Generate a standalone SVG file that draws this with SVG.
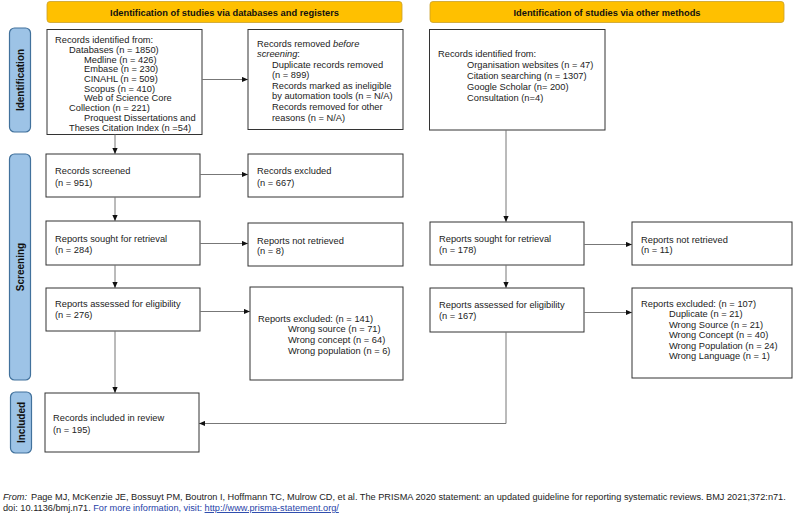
<svg xmlns="http://www.w3.org/2000/svg" width="796" height="516" viewBox="0 0 796 516">
<style>
text{font-family:"Liberation Sans",Arial,sans-serif;fill:#222}
.t{font-size:9.3px}
.b{fill:#fff;stroke:#333;stroke-width:1}
.ban{fill:#FFC000;stroke:#C9A02A;stroke-width:0.8}
.bt{font-size:9.3px;font-weight:bold;text-anchor:middle;fill:#111}
.side{fill:#9DC3E6;stroke:#41719C;stroke-width:1.2}
.st{font-size:10px;font-weight:bold;text-anchor:middle;fill:#111}
.c{fill:none;stroke:#777;stroke-width:1;marker-end:url(#ah)}
.f{font-size:9.2px}
</style>
<defs>
<marker id="ah" markerUnits="userSpaceOnUse" markerWidth="6" markerHeight="6" refX="6" refY="3" orient="auto"><path d="M0,0.4 L6,3 L0,5.6 Z" fill="#111"/></marker>
</defs>
<g id="banner-left"><rect class="ban" x="47" y="1.5" width="355" height="21" rx="3"/><text class="bt" x="224.5" y="15.5">Identification of studies via databases and registers</text></g>
<g id="banner-right"><rect class="ban" x="430" y="1.5" width="354" height="21" rx="3"/><text class="bt" x="607" y="15.5">Identification of studies via other methods</text></g>
<g id="side-identification"><rect class="side" x="9.5" y="28" width="21" height="104" rx="5"/><text class="st" transform="translate(23.5,80) rotate(-90)">Identification</text></g>
<g id="side-screening"><rect class="side" x="9.5" y="154" width="21" height="226" rx="5"/><text class="st" transform="translate(23.5,267) rotate(-90)">Screening</text></g>
<g id="side-included"><rect class="side" x="10.5" y="392" width="21" height="61" rx="5"/><text class="st" transform="translate(24.5,422.5) rotate(-90)">Included</text></g>

<g id="records-identified"><rect class="b" x="47" y="29.5" width="155" height="105"/>
<text class="t"><tspan x="55" y="42.5">Records identified from:</tspan><tspan x="69" y="52.5">Databases (n = 1850)</tspan><tspan x="84" y="62.5">Medline (n = 426)</tspan><tspan x="84" y="72.3">Embase (n = 230)</tspan><tspan x="84" y="82">CINAHL (n = 509)</tspan><tspan x="84" y="91.7">Scopus (n = 410)</tspan><tspan x="84" y="101.4">Web of Science Core</tspan><tspan x="69" y="111.1">Collection (n = 221)</tspan><tspan x="84" y="120.8">Proquest Dissertations and</tspan><tspan x="69" y="130.5">Theses Citation Index (n =54)</tspan></text></g>
<g id="records-removed"><rect class="b" x="248" y="29.5" width="155" height="100"/>
<text class="t"><tspan x="257" y="46.5">Records removed <tspan font-style="italic">before</tspan></tspan><tspan x="257" y="57" font-style="italic">screening</tspan><tspan>:</tspan><tspan x="272" y="67.5">Duplicate records removed</tspan><tspan x="272" y="78">(n = 899)</tspan><tspan x="272" y="88.7">Records marked as ineligible</tspan><tspan x="272" y="99.4">by automation tools (n = N/A)</tspan><tspan x="272" y="110.1">Records removed for other</tspan><tspan x="272" y="120.8">reasons (n = N/A)</tspan></text></g>
<g id="other-identified"><rect class="b" x="429.5" y="29.5" width="175.5" height="100.5"/>
<text class="t"><tspan x="438" y="56.5">Records identified from:</tspan><tspan x="467" y="67.5">Organisation websites (n = 47)</tspan><tspan x="467" y="78.5">Citation searching (n = 1307)</tspan><tspan x="467" y="89.5">Google Scholar (n= 200)</tspan><tspan x="467" y="100.5">Consultation (n=4)</tspan></text></g>

<g id="records-screened"><rect class="b" x="46" y="154" width="154" height="43"/><text class="t"><tspan x="55" y="174">Records screened</tspan><tspan x="55" y="185.5">(n = 951)</tspan></text></g>
<g id="records-excluded"><rect class="b" x="248" y="154" width="155" height="43"/><text class="t"><tspan x="257" y="174">Records excluded</tspan><tspan x="257" y="185.5">(n = 667)</tspan></text></g>
<g id="sought-left"><rect class="b" x="46" y="221" width="154" height="44"/><text class="t"><tspan x="55" y="242">Reports sought for retrieval</tspan><tspan x="55" y="252.5">(n = 284)</tspan></text></g>
<g id="notretrieved-left"><rect class="b" x="248" y="223" width="155" height="43"/><text class="t"><tspan x="257" y="243.5">Reports not retrieved</tspan><tspan x="257" y="254">(n = 8)</tspan></text></g>
<g id="assessed-left"><rect class="b" x="46" y="288" width="154" height="43"/><text class="t"><tspan x="55" y="307">Reports assessed for eligibility</tspan><tspan x="55" y="318">(n = 276)</tspan></text></g>
<g id="excluded-left"><rect class="b" x="250" y="287" width="153" height="93"/><text class="t"><tspan x="258" y="321.5">Reports excluded: (n = 141)</tspan><tspan x="288" y="332.3">Wrong source (n = 71)</tspan><tspan x="288" y="343">Wrong concept (n = 64)</tspan><tspan x="288" y="353.8">Wrong population (n = 6)</tspan></text></g>

<g id="sought-right"><rect class="b" x="430" y="222" width="154" height="43"/><text class="t"><tspan x="439" y="242">Reports sought for retrieval</tspan><tspan x="439" y="252.5">(n = 178)</tspan></text></g>
<g id="notretrieved-right"><rect class="b" x="632" y="222" width="160" height="43"/><text class="t"><tspan x="641" y="242.5">Reports not retrieved</tspan><tspan x="641" y="253">(n = 11)</tspan></text></g>
<g id="assessed-right"><rect class="b" x="430" y="288" width="154" height="44"/><text class="t"><tspan x="439" y="308">Reports assessed for eligibility</tspan><tspan x="439" y="319">(n = 167)</tspan></text></g>
<g id="excluded-right"><rect class="b" x="632" y="288" width="160" height="90"/><text class="t"><tspan x="641" y="306.5">Reports excluded: (n = 107)</tspan><tspan x="669" y="317">Duplicate (n = 21)</tspan><tspan x="669" y="327.5">Wrong Source (n = 21)</tspan><tspan x="669" y="338">Wrong Concept (n = 40)</tspan><tspan x="669" y="348.5">Wrong Population (n = 24)</tspan><tspan x="669" y="359">Wrong Language (n = 1)</tspan></text></g>

<g id="included"><rect class="b" x="45" y="393" width="154" height="59"/><text class="t"><tspan x="53" y="421">Records included in review</tspan><tspan x="53" y="432.5">(n = 195)</tspan></text></g>

<g id="connectors">
<path class="c" d="M202,79.5 H248"/>
<path class="c" d="M115,134.5 V154"/>
<path class="c" d="M200,174.5 H248"/>
<path class="c" d="M115,197 V221"/>
<path class="c" d="M200,243.5 H248"/>
<path class="c" d="M115,265 V288"/>
<path class="c" d="M200,311.5 H250"/>
<path class="c" d="M115,331 V393"/>
<path class="c" d="M506,130 V222"/>
<path class="c" d="M584,244.5 H632"/>
<path class="c" d="M506,265 V288"/>
<path class="c" d="M584,312.5 H632"/>
<path class="c" d="M506,332 V423.5 H199"/>
</g>

<g id="footer"><text class="f"><tspan x="3" y="500" font-style="italic">From:</tspan><tspan x="31" y="500">Page MJ, McKenzie JE, Bossuyt PM, Boutron I, Hoffmann TC, Mulrow CD, et al. The PRISMA 2020 statement: an updated guideline for reporting systematic reviews. BMJ 2021;372:n71.</tspan><tspan x="3" y="511">doi: 10.1136/bmj.n71. </tspan><tspan fill="#1F3FA8">For more information, visit: </tspan><tspan fill="#1F3FA8" text-decoration="underline">http://www.prisma-statement.org/</tspan></text></g>
</svg>
